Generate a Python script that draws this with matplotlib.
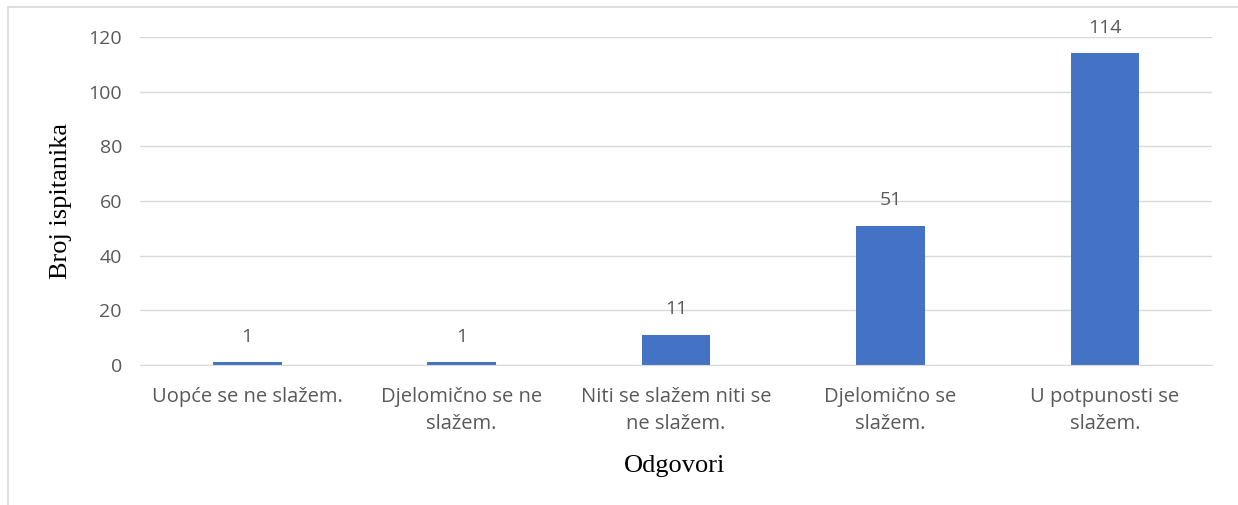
import matplotlib.pyplot as plt
from matplotlib.patches import Rectangle

# Data
categories = [
    "Uopće se ne slažem.",
    "Djelomično se ne\nslažem.",
    "Niti se slažem niti se\nne slažem.",
    "Djelomično se\nslažem.",
    "U potpunosti se\nslažem.",
]
counts = [1, 1, 11, 51, 114]
y_ticks = [0, 20, 40, 60, 80, 100, 120]

BAR_COLOR = "#4472C4"
TEXT_COLOR = "#595959"
GRID_COLOR = "#D9D9D9"
sans = ["Open Sans", "DejaVu Sans"]
serif = ["Liberation Serif", "DejaVu Serif"]

fig = plt.figure(figsize=(12.38, 5.05), dpi=100)
ax = fig.add_axes([0.1131, 0.277, 0.8659, 0.6497])

x = range(len(categories))
bars = ax.bar(x, counts, width=0.32, color=BAR_COLOR, zorder=3)

for rect, val in zip(bars, counts):
    ax.annotate(str(val), (rect.get_x() + rect.get_width() / 2, rect.get_height()),
                xytext=(0, 12), textcoords="offset points", ha="center", va="bottom",
                fontsize=14, color=TEXT_COLOR, family=sans)

ax.set_xlim(-0.5, len(categories) - 0.5)
ax.set_ylim(0, 120)
ax.set_yticks(y_ticks)
ax.set_yticklabels([str(t) for t in y_ticks], family=sans, fontsize=14, color=TEXT_COLOR)
ax.set_xticks(list(x))
ax.set_xticklabels(categories, family=sans, fontsize=14.5, color=TEXT_COLOR, linespacing=1.45)
ax.tick_params(axis="both", length=0)
ax.tick_params(axis="x", pad=16)
ax.tick_params(axis="y", pad=13)

ax.grid(axis="y", color=GRID_COLOR, linewidth=1, zorder=0)
for side in ["top", "right", "left"]:
    ax.spines[side].set_visible(False)
ax.spines["bottom"].set_color(GRID_COLOR)
ax.spines["bottom"].set_zorder(4)

fig.text(0.049, 0.601, "Broj ispitanika", rotation=90, ha="center", va="center",
         family=serif, fontsize=19, color="black")
fig.text(0.545, 0.077, "Odgovori", ha="center", va="center",
         family=serif, fontsize=19, color="black")

# chart area border
fig.add_artist(Rectangle((8 / 1238, -0.01), 1.0, 1 - 7 / 505 + 0.01,
                         transform=fig.transFigure, fill=False,
                         edgecolor="#D9D9D9", linewidth=1.2))

fig.savefig("out.png", dpi=100)
